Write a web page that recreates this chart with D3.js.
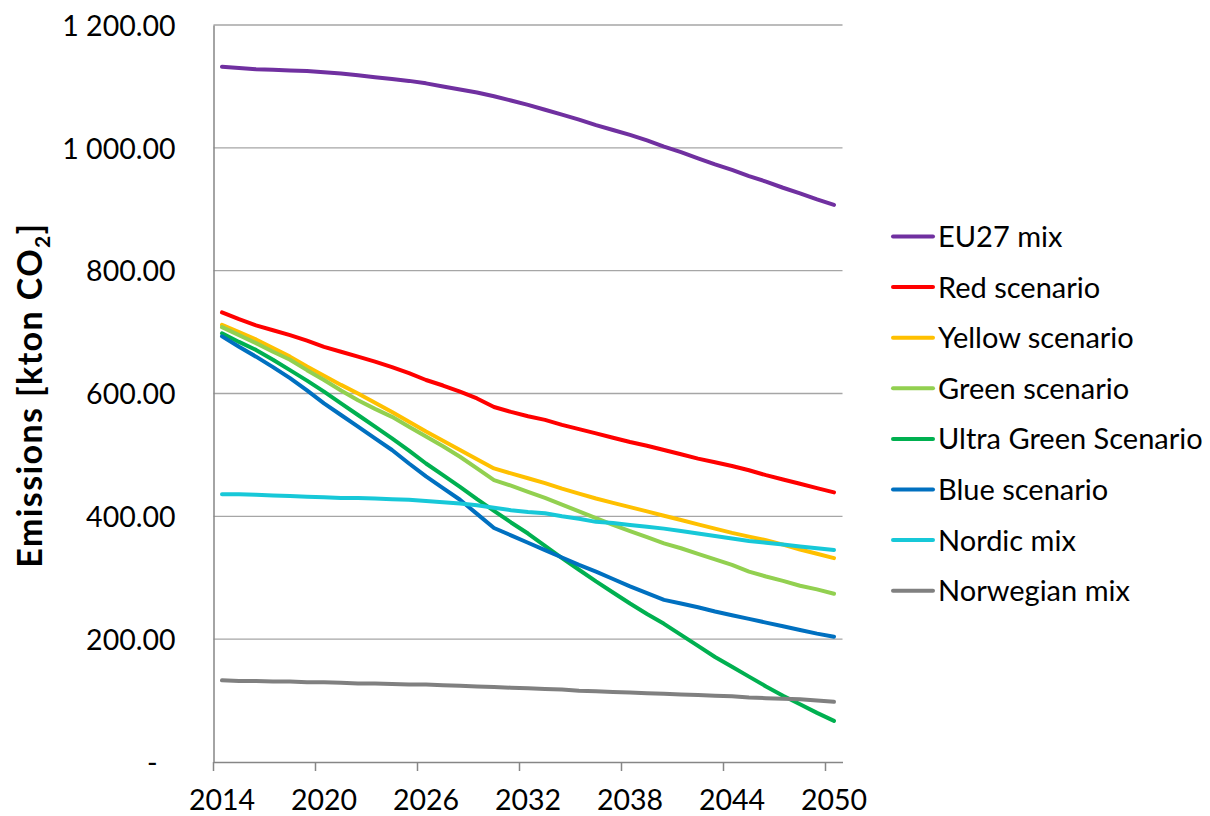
<!DOCTYPE html>
<html>
<head>
<meta charset="utf-8">
<script src="https://cdn.jsdelivr.net/npm/d3@7"></script>
<style>
  body { margin: 0; background: #fff; }
  svg { display: block; font-family: Lato, "Open Sans", sans-serif; }
</style>
</head>
<body>
<svg id="chart" width="1210" height="816"></svg>
<script>
// data (kton CO2 per year)
const years = d3.range(2014, 2051);
const labelYears = [2014, 2020, 2026, 2032, 2038, 2044, 2050];
const yTicks = [0, 200, 400, 600, 800, 1000, 1200];

const seriesNames = ["EU27 mix", "Red scenario", "Yellow scenario", "Green scenario",
  "Ultra Green Scenario", "Blue scenario", "Nordic mix", "Norwegian mix"];
const seriesColors = ["#7030A0", "#FF0000", "#FFC000", "#92D050",
  "#00B050", "#0070C0", "#17C8D8", "#808080"];

const eu27 = [1132, 1130, 1128, 1127, 1126, 1125, 1123, 1121, 1118, 1115, 1112, 1109, 1105,
  1100, 1095, 1090, 1084, 1077, 1070, 1062, 1054, 1046, 1037, 1029, 1021, 1012, 1002,
  993, 983, 973, 964, 954, 945, 935, 926, 916, 907];
const red = [732, 721, 711, 703, 695, 686, 676, 668, 660, 652, 643, 633, 622, 613, 603,
  592, 578, 570, 563, 557, 549, 542, 535, 528, 521, 515, 508, 501, 494, 488, 482, 475,
  467, 460, 453, 446, 439];
const yellow = [712, 700, 688, 674, 660, 644, 629, 614, 600, 585, 570, 554, 538, 523, 508,
  493, 478, 470, 462, 454, 445, 437, 429, 422, 415, 408, 401, 394, 387, 380, 373, 367,
  361, 354, 346, 339, 332];
const green = [708, 695, 682, 668, 655, 638, 622, 605, 589, 575, 562, 546, 530, 514, 497,
  478, 459, 450, 440, 430, 419, 408, 397, 386, 376, 366, 356, 348, 339, 330, 321, 310,
  302, 295, 287, 281, 274];
const ultraGreen = [698, 684, 671, 655, 638, 621, 603, 584, 565, 546, 527, 507, 486, 467,
  448, 428, 409, 390, 372, 352, 332, 313, 294, 276, 258, 241, 225, 207, 189, 171, 155,
  139, 123, 108, 94, 80, 67];
const blue = [693, 676, 660, 643, 625, 605, 584, 565, 546, 527, 508, 486, 465, 446, 427,
  404, 381, 369, 357, 345, 333, 321, 310, 298, 286, 275, 264, 258, 252, 245, 239, 233,
  227, 221, 215, 209, 204];
const nordic = [436, 436, 435, 434, 433, 432, 431, 430, 430, 429, 428, 427, 425, 423, 421,
  418, 414, 410, 407, 405, 400, 396, 391, 389, 386, 383, 380, 376, 372, 368, 364, 360,
  357, 354, 351, 348, 345];
const norwegian = [133, 132, 132, 131, 131, 130, 130, 129, 128, 128, 127, 126, 126, 125,
  124, 123, 122, 121, 120, 119, 118, 116, 115, 114, 113, 112, 111, 110, 109, 108, 107,
  105, 104, 103, 102, 100, 98];

const seriesValues = [eu27, red, yellow, green, ultraGreen, blue, nordic, norwegian];

const svg = d3.select("#chart");
const plot = { left: 213.5, right: 842.5, top: 25, bottom: 762 };

const x = d3.scaleBand().domain(years).range([plot.left, plot.right]).paddingInner(0);
const xc = yr => x(yr) + x.bandwidth() / 2;
const y = d3.scaleLinear().domain([0, 1200]).range([plot.bottom, plot.top]);

const locale = d3.formatLocale({ decimal: ".", thousands: " ", grouping: [3], currency: ["", ""] });
const fmt = locale.format(",.2f");

// gridlines
svg.append("g")
  .selectAll("line")
  .data(yTicks.filter(d => d > 0))
  .join("line")
  .attr("x1", plot.left).attr("x2", plot.right)
  .attr("y1", d => y(d)).attr("y2", d => y(d))
  .attr("stroke", "#A6A6A6")
  .attr("stroke-width", 1.3);

// y axis
const yAxis = svg.append("g")
  .attr("transform", `translate(${plot.left},0)`)
  .call(d3.axisLeft(y).tickValues(yTicks).tickSize(0).tickPadding(38)
    .tickFormat(d => d === 0 ? "-" : fmt(d)));
yAxis.select(".domain").attr("stroke", "#868686").attr("stroke-width", 1.5);
yAxis.selectAll("text")
  .attr("font-size", 28.5)
  .attr("fill", "#000")
  .attr("font-family", "Lato, sans-serif")
  .attr("dy", "0.36em")
  .attr("dx", d => d === 0 ? -18 : 0);

// x axis: labels at category centres, ticks at category boundaries
const xAxis = svg.append("g")
  .attr("transform", `translate(0,${plot.bottom})`)
  .call(d3.axisBottom(x).tickValues(labelYears).tickSize(0).tickPadding(28));
xAxis.select(".domain").attr("stroke", "#868686").attr("stroke-width", 1.5);
xAxis.selectAll("text")
  .attr("font-size", 28.5)
  .attr("fill", "#000")
  .attr("font-family", "Lato, sans-serif");

svg.append("g")
  .selectAll("line")
  .data(labelYears)
  .join("line")
  .attr("x1", d => x(d)).attr("x2", d => x(d))
  .attr("y1", plot.bottom).attr("y2", plot.bottom + 9)
  .attr("stroke", "#868686")
  .attr("stroke-width", 1.5);

// y axis title
const title = svg.append("text")
  .attr("transform", "translate(42,395) rotate(-90)")
  .attr("text-anchor", "middle")
  .attr("font-size", 34)
  .attr("font-weight", "bold")
  .attr("letter-spacing", 1.4)
  .attr("fill", "#000");
title.append("tspan").text("Emissions [kton CO");
title.append("tspan").text("2").attr("font-size", 21).attr("dy", 8);
title.append("tspan").text("]").attr("dy", -8);

// lines
const line = d3.line()
  .x((d, i) => xc(years[i]))
  .y(d => y(d));

svg.append("g")
  .selectAll("path")
  .data(seriesValues)
  .join("path")
  .attr("d", d => line(d))
  .attr("fill", "none")
  .attr("stroke", (d, i) => seriesColors[i])
  .attr("stroke-width", 4)
  .attr("stroke-linejoin", "round")
  .attr("stroke-linecap", "round");

// legend
const legend = svg.append("g")
  .selectAll("g")
  .data(seriesNames)
  .join("g")
  .attr("transform", (d, i) => `translate(893,${236.5 + i * 50.6})`);

legend.append("line")
  .attr("x1", 0).attr("x2", 40)
  .attr("stroke", (d, i) => seriesColors[i])
  .attr("stroke-width", 4)
  .attr("stroke-linecap", "round");

legend.append("text")
  .attr("x", 45)
  .attr("dy", "0.36em")
  .attr("font-size", 29)
  .attr("fill", "#000")
  .text(d => d);
</script>
</body>
</html>
